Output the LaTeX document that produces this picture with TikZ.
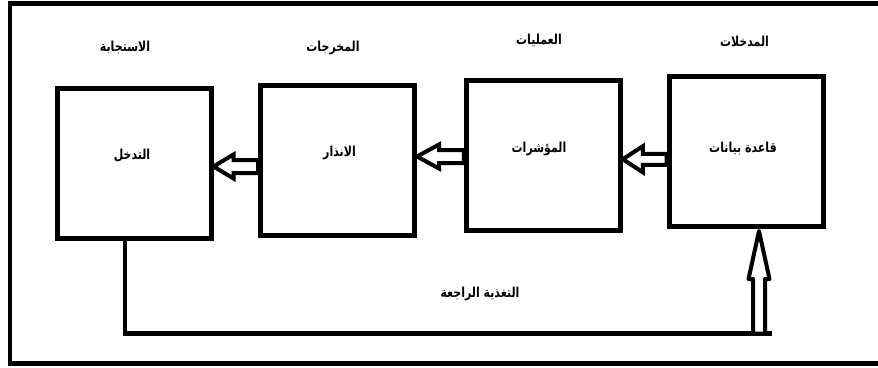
\documentclass[tikz,border=0pt]{standalone}
\usepackage{fontspec}
\usepackage{graphicx}
\usetikzlibrary{calc}
\TeXXeTstate=1
\newfontfamily\arabicfont[Script=Arabic]{DejaVu Sans}
\newcommand{\artxt}[1]{\scalebox{1}[1.25]{\beginR #1\endR}}
\tikzset{
  box/.style={draw, line width=5pt, minimum width=154pt, minimum height=150pt, inner sep=0pt},
  lbl/.style={font=\arabicfont\bfseries\fontsize{11}{13}\selectfont, inner sep=1pt},
  harrow/.style={draw, line width=4pt, fill=white, line join=miter},
  fbline/.style={draw, line width=4.5pt},
  frame/.style={draw, line width=4.5pt}
}
\begin{document}
\begin{tikzpicture}[x=1pt,y=-1pt]
\useasboundingbox (0,0) rectangle (878,367);
\clip (0,0) rectangle (878,367);
\draw[frame] (10,3.7) rectangle (900,363.5);
% boxes
\node[box] (b1) at (134,163.75) {};
\node[box] (b2) at (337.5,160) {};
\node[box] (b3) at (543.25,155.25) {};
\node[box] (b4) at (746,151.5) {};
% box texts
\node[lbl] (t1) at (132,156) {\artxt{التدخل}};
\node[lbl] (t2) at (339.5,153) {\artxt{الانذار}};
\node[lbl] (t3) at (539,148.5) {\artxt{المؤشرات}};
\node[lbl] (t4) at (743,148.5) {\artxt{قاعدة بيانات}};
% titles
\node[lbl] (h1) at (125,47.5) {\artxt{الاستجابة}};
\node[lbl] (h2) at (333,48) {\artxt{المخرجات}};
\node[lbl] (h3) at (539,40.5) {\artxt{العمليات}};
\node[lbl] (h4) at (744.5,41) {\artxt{المدخلات}};
\node[lbl] (fbt) at (480,294) {\artxt{التغذية الراجعة}};
% hollow arrows between boxes
\coordinate (a1) at ($(b1.east)+(0,2.75)$);
\coordinate (a2) at ($(b2.east)+(0,-3.5)$);
\coordinate (a3) at ($(b3.east)+(0,4)$);
\path[harrow] let \p1=(a1), \p2=(b2.west) in
  (\x1,\y1) -- (\x1+20pt,\y1+12pt) -- (\x1+20pt,\y1+6.5pt) -- (\x2,\y1+6.5pt)
  -- (\x2,\y1-6.5pt) -- (\x1+20pt,\y1-6.5pt) -- (\x1+20pt,\y1-12pt) -- cycle;
\path[harrow] let \p1=(a2), \p2=(b3.west) in
  (\x1,\y1) -- (\x1+22pt,\y1+12pt) -- (\x1+22pt,\y1+6.5pt) -- (\x2,\y1+6.5pt)
  -- (\x2,\y1-6.5pt) -- (\x1+22pt,\y1-6.5pt) -- (\x1+22pt,\y1-12pt) -- cycle;
\path[harrow] let \p1=(a3), \p2=(b4.west) in
  (\x1,\y1) -- (\x1+20pt,\y1+13pt) -- (\x1+20pt,\y1+5.5pt) -- (\x2,\y1+5.5pt)
  -- (\x2,\y1-5.5pt) -- (\x1+20pt,\y1-5.5pt) -- (\x1+20pt,\y1-13pt) -- cycle;
% feedback
\coordinate (fbs) at ($(b1.south)+(-9,0)$);
\coordinate (fbe) at (772,333.5);
\draw[fbline] (fbs) |- (fbe);
\coordinate (up) at ($(b4.south)+(13,2)$);
\path[harrow, line join=round] let \p1=(up), \p2=(fbe) in
  (\x1,\y1) -- (\x1-10.5pt,\y1-48pt) -- (\x1-6pt,\y1-48pt) -- (\x1-6pt,\y2)
  -- (\x1+6pt,\y2) -- (\x1+6pt,\y1-48pt) -- (\x1+10.5pt,\y1-48pt) -- cycle;
\end{tikzpicture}
\end{document}
